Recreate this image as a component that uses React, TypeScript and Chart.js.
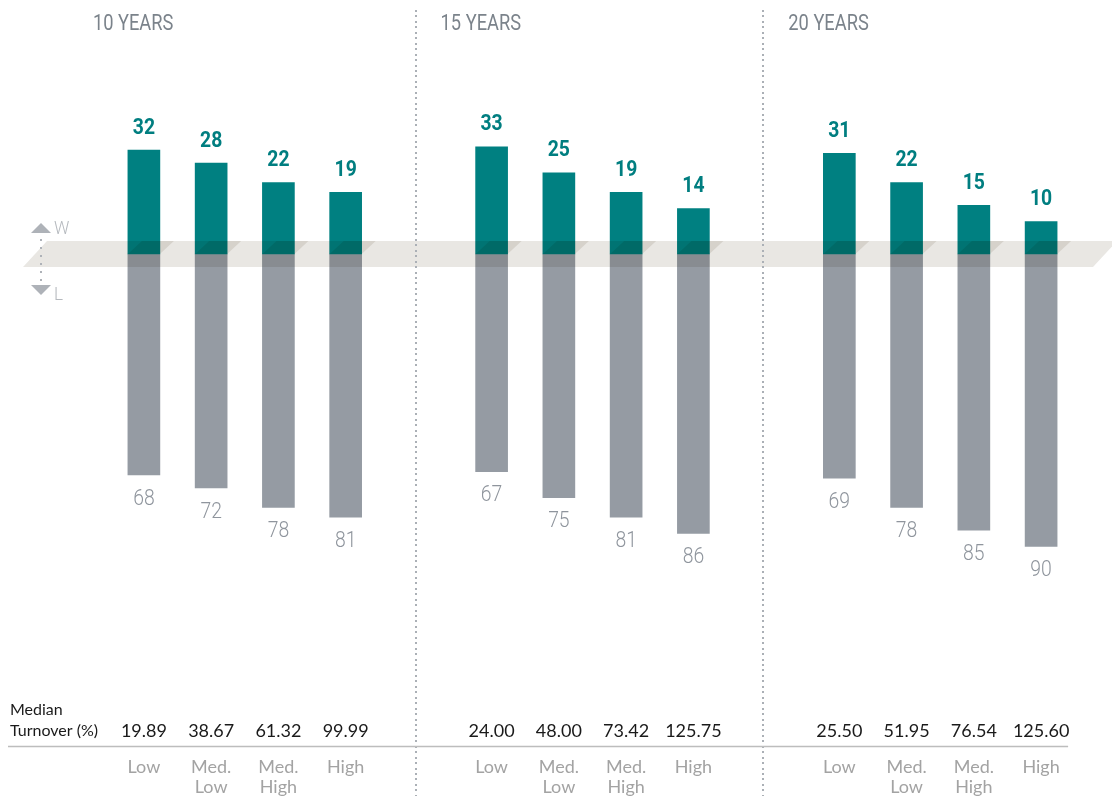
import React, { useEffect, useRef } from 'react';
import { Chart, registerables } from 'chart.js';

Chart.register(...registerables);

const GROUPS = ['10 YEARS', '15 YEARS', '20 YEARS'];
const CATEGORIES = [['Low'], ['Med.', 'Low'], ['Med.', 'High'], ['High']];
const WIN = [
  [32, 28, 22, 19],
  [33, 25, 19, 14],
  [31, 22, 15, 10],
];
const LOSS = [
  [68, 72, 78, 81],
  [67, 75, 81, 86],
  [69, 78, 85, 90],
];
const TURNOVER = [
  ['19.89', '38.67', '61.32', '99.99'],
  ['24.00', '48.00', '73.42', '125.75'],
  ['25.50', '51.95', '76.54', '125.60'],
];
const GROUP_STRIDE = 5.17;

const TEAL = '#008081';
const GRAY_BAR = '#959ba3';

const posOf = (g: number, i: number) => g * GROUP_STRIDE + i;

const winPoints = WIN.flatMap((row, g) => row.map((v, i) => ({ x: posOf(g, i), y: v })));
const lossPoints = LOSS.flatMap((row, g) => row.map((v, i) => ({ x: posOf(g, i), y: -v })));

function narrowText(ctx: CanvasRenderingContext2D, text: string, x: number, y: number, sx: number) {
  ctx.save();
  ctx.translate(x, y);
  ctx.scale(sx, 1);
  ctx.fillText(text, 0, 0);
  ctx.restore();
}

const overlay = {
  id: 'overlay',
  afterDatasetsDraw(chart: any) {
    const { ctx, scales } = chart;
    const x = scales.x;
    const y = scales.y;
    const zero = y.getPixelForValue(0);
    const half = 13;
    const slant = 24;

    ctx.save();
    // band (multiplied over bars)
    ctx.globalCompositeOperation = 'multiply';
    ctx.fillStyle = '#e9e7e3';
    const bl = chart.chartArea.left - 20;
    const br = chart.chartArea.right + 7.5;
    ctx.beginPath();
    ctx.moveTo(bl + slant, zero - half);
    ctx.lineTo(br + slant, zero - half);
    ctx.lineTo(br, zero + half);
    ctx.lineTo(bl, zero + half);
    ctx.closePath();
    ctx.fill();

    // shadows of teal bars
    const winMeta = chart.getDatasetMeta(0);
    ctx.fillStyle = '#ebe8e4';
    winMeta.data.forEach((bar: any) => {
      const p = bar.getProps(['x', 'width'], true);
      const L = p.x - p.width / 2;
      const R = p.x + p.width / 2;
      ctx.beginPath();
      ctx.moveTo(L, zero);
      ctx.lineTo(L + 14, zero - half);
      ctx.lineTo(R + 14, zero - half);
      ctx.lineTo(R, zero);
      ctx.closePath();
      ctx.fill();
    });
    ctx.globalCompositeOperation = 'source-over';

    // value labels
    ctx.textAlign = 'center';
    ctx.textBaseline = 'middle';
    ctx.fillStyle = '#007e80';
    ctx.font = 'bold 22px Roboto, sans-serif';
    winMeta.data.forEach((bar: any, k: number) => {
      const p = bar.getProps(['x', 'y'], true);
      narrowText(ctx, String(winPoints[k].y), p.x, p.y - 22, 0.88);
    });
    const lossMeta = chart.getDatasetMeta(1);
    ctx.fillStyle = '#8f959d';
    ctx.font = '300 22px Roboto, sans-serif';
    lossMeta.data.forEach((bar: any, k: number) => {
      const p = bar.getProps(['x', 'y'], true);
      narrowText(ctx, String(-lossPoints[k].y), p.x, p.y + 24, 0.88);
    });

    // separators
    ctx.fillStyle = '#abb0b6';
    for (let g = 0; g < GROUPS.length - 1; g++) {
      const sx = Math.round(x.getPixelForValue(g * GROUP_STRIDE + (3 + GROUP_STRIDE) / 2) - 3);
      for (let yy = 10; yy < chart.height; yy += 5.45) {
        ctx.fillRect(sx - 1, Math.round(yy), 2, 2);
      }
    }

    // group titles
    ctx.textAlign = 'left';
    ctx.fillStyle = '#7b838b';
    ctx.font = '22px Roboto, sans-serif';
    GROUPS.forEach((t, g) => {
      narrowText(ctx, t, x.getPixelForValue(posOf(g, 0)) - 51, 24, 0.83);
    });

    // W / L indicator
    ctx.fillStyle = '#aeb2b8';
    ctx.beginPath();
    ctx.moveTo(31, 233);
    ctx.lineTo(51, 233);
    ctx.lineTo(41, 223);
    ctx.closePath();
    ctx.fill();
    ctx.beginPath();
    ctx.moveTo(31, 285);
    ctx.lineTo(51, 285);
    ctx.lineTo(41, 295);
    ctx.closePath();
    ctx.fill();
    for (let yy = 239; yy <= 281; yy += 8) {
      ctx.fillRect(40, yy, 2, 2);
    }
    ctx.fillStyle = '#b5b9be';
    ctx.font = '300 19px Roboto, sans-serif';
    narrowText(ctx, 'W', 54, 229, 0.9);
    narrowText(ctx, 'L', 54, 295, 0.9);

    // turnover table
    ctx.fillStyle = '#1a1a1a';
    ctx.font = '16px Lato, sans-serif';
    ctx.fillText('Median', 10, 710);
    ctx.fillText('Turnover (%)', 10, 731);
    ctx.textAlign = 'center';
    ctx.font = '18px Lato, sans-serif';
    TURNOVER.forEach((row, g) => {
      row.forEach((t, i) => {
        ctx.fillText(t, x.getPixelForValue(posOf(g, i)), 731);
      });
    });

    // rule
    ctx.strokeStyle = '#bdbdbd';
    ctx.lineWidth = 1.5;
    ctx.beginPath();
    ctx.moveTo(8, 746.5);
    ctx.lineTo(x.getPixelForValue(posOf(GROUPS.length - 1, 3)) + 27, 746.5);
    ctx.stroke();

    // category labels
    ctx.fillStyle = '#a3a3a3';
    ctx.font = '18px Lato, sans-serif';
    GROUPS.forEach((_, g) => {
      CATEGORIES.forEach((lines, i) => {
        lines.forEach((ln, j) => {
          ctx.fillText(ln, x.getPixelForValue(posOf(g, i)), 767 + j * 20);
        });
      });
    });

    ctx.restore();
  },
};

export default function App() {
  const ref = useRef<HTMLCanvasElement | null>(null);
  useEffect(() => {
    document.body.style.margin = '0';
    const canvas = ref.current;
    if (!canvas) return;
    const chart = new Chart(canvas, {
      type: 'bar',
      data: {
        datasets: [
          {
            label: 'Win',
            data: winPoints,
            backgroundColor: TEAL,
            grouped: false,
            barThickness: 32,
          } as any,
          {
            label: 'Loss',
            data: lossPoints,
            backgroundColor: GRAY_BAR,
            grouped: false,
            barThickness: 32,
          } as any,
        ],
      },
      options: {
        responsive: false,
        animation: false,
        devicePixelRatio: 1,
        layout: { padding: { left: 43, right: 26.5, top: 124, bottom: 217 } },
        plugins: {
          legend: { display: false },
          tooltip: { enabled: false },
          title: { display: false },
        },
        scales: {
          x: { type: 'linear', min: -1.5, max: 14, display: false, offset: false },
          y: { min: -100, max: 40, display: false },
        },
      },
      plugins: [overlay],
    });
    return () => chart.destroy();
  }, []);
  return (
    <div style={{ width: 1112, height: 796, background: '#ffffff' }}>
      <canvas ref={ref} width={1112} height={796} style={{ display: 'block' }} />
    </div>
  );
}
